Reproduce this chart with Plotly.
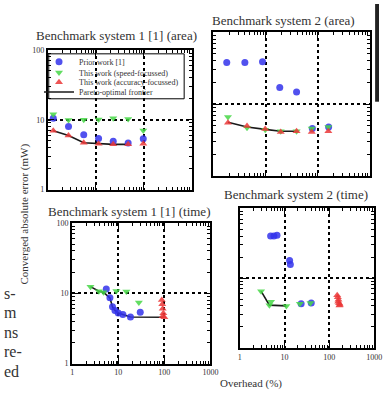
import plotly.graph_objects as go

W, H = 387, 394

# ---------------- data ----------------
# Benchmark system 1 [1] (area)
a1_prior_x = [1.3, 2.7, 5.6, 11.4, 23, 47, 97]
a1_prior_y = [10.5, 8.0, 6.1, 5.4, 4.95, 4.65, 5.35]
a1_speed_x = [1.3, 2.7, 5.6, 11.4, 23, 47, 97]
a1_speed_y = [12.0, 9.9, 10.0, 10.1, 10.5, 10.3, 7.0]
a1_acc_x = [1.3, 2.7, 5.6, 11.4, 23, 47, 97]
a1_acc_y = [6.95, 5.95, 4.7, 4.55, 4.45, 4.45, 4.55]
a1_front_x = [1.3, 2.7, 5.6, 11.4, 23, 47]
a1_front_y = [6.95, 5.95, 4.7, 4.55, 4.45, 4.45]

# Benchmark system 2 (area)
a2_prior_x = [1.8, 4.0, 8.7, 18.6, 39, 78, 160]
a2_prior_y = [38, 38, 39, 17, 14.8, 4.6, 4.8]
a2_speed_x = [1.9, 4.4, 9.8, 19.4, 39, 76, 158]
a2_speed_y = [6.6, 4.7, 4.4, 4.2, 4.2, 4.6, 4.8]
a2_acc_x = [1.9, 4.4, 9.8, 19.4, 39, 76, 158]
a2_acc_y = [5.5, 4.95, 4.5, 4.1, 4.2, 4.1, 4.2]
a2_front_x = [1.9, 4.4, 9.8, 19.4, 39]
a2_front_y = [5.6, 4.8, 4.45, 4.2, 4.2]

# Benchmark system 1 [1] (time)
t1_prior_x = [5.5, 6.6, 7.5, 8.5, 10, 12.6, 18.4, 30]
t1_prior_y = [11.5, 8.6, 6.4, 5.7, 5.25, 5.0, 4.6, 5.35]
t1_speed_x = [2.5, 3.8, 4.8, 9.1, 15, 28]
t1_speed_y = [12.4, 10.7, 10.3, 10.8, 10.6, 7.4]
t1_acc_x = [88, 90, 92, 95, 92, 100]
t1_acc_y = [8.0, 7.0, 6.0, 5.2, 4.7, 4.55]
t1_front_x = [2.5, 3.8, 4.8, 6.6, 7.5, 8.5, 10, 12.6, 18.4, 100]
t1_front_y = [12.4, 10.7, 10.3, 8.6, 6.4, 5.7, 5.25, 5.0, 4.6, 4.55]

# Benchmark system 2 (time)
t2_prior_x = [4.9, 5.8, 6.8, 13.0, 13.5, 23.5, 39.5]
t2_prior_y = [40, 40, 41, 17.8, 15.6, 4.3, 4.4]
t2_speed_x = [3.0, 4.6, 5.0, 11, 22, 38]
t2_speed_y = [6.5, 4.1, 4.6, 4.0, 4.3, 4.4]
t2_acc_x = [150, 155, 160, 158, 165, 172, 168]
t2_acc_y = [5.7, 5.3, 4.9, 4.6, 4.35, 4.15, 4.05]
t2_front_x = [3.0, 4.6, 11]
t2_front_y = [6.5, 4.1, 4.0]

series_names = ["Prior work [1]", "This work (speed-focussed)",
                "This work (accuracy-focussed)", "Pareto-optimal frontier"]
panel_titles = ["Benchmark system 1 [1] (area)", "Benchmark system 2 (area)",
                "Benchmark system 1 [1] (time)", "Benchmark system 2 (time)"]
x_tick_vals = [1, 10, 100, 1000]
x_tick_text = ["1", "10", "100", "1000"]
y_tick_vals = [1, 10, 100]
y_tick_text = ["1", "10", "100"]
y_label = "Converged absolute error (mW)"
x_label = "Overhead (%)"
margin_text = ["s-", "m", "ns", "re-", "ed"]

# ---------------- styling ----------------
SERIF = "Liberation Serif"
BLUE = "rgba(50,50,235,0.85)"
GREEN = "rgba(70,215,70,0.85)"
RED = "rgba(235,55,55,0.85)"


def px(x):
    return x / W


def py(y):
    return 1 - y / H


minor_vals = [m * 10 ** e for e in range(0, 3) for m in range(2, 10)]

domains = [
    ([47, 195], [47, 190]),
    ([217, 378], [29, 176]),
    ([72, 214], [224, 368]),
    ([244, 382], [209, 352]),
]

panels = [
    (a1_prior_x, a1_prior_y, a1_speed_x, a1_speed_y, a1_acc_x, a1_acc_y, a1_front_x, a1_front_y),
    (a2_prior_x, a2_prior_y, a2_speed_x, a2_speed_y, a2_acc_x, a2_acc_y, a2_front_x, a2_front_y),
    (t1_prior_x, t1_prior_y, t1_speed_x, t1_speed_y, t1_acc_x, t1_acc_y, t1_front_x, t1_front_y),
    (t2_prior_x, t2_prior_y, t2_speed_x, t2_speed_y, t2_acc_x, t2_acc_y, t2_front_x, t2_front_y),
]

fig = go.Figure()
legends = ["legend", "legend2", "legend3", "legend4"]

for i, p in enumerate(panels):
    xa = "x" if i == 0 else f"x{i+1}"
    ya = "y" if i == 0 else f"y{i+1}"
    show = i == 0
    fig.add_trace(go.Scatter(x=p[6], y=p[7], mode="lines", name=series_names[3],
                             line=dict(color="#1a1a1a", width=1.6),
                             xaxis=xa, yaxis=ya, showlegend=show, legend=legends[3]))
    fig.add_trace(go.Scatter(x=p[0], y=p[1], mode="markers", name=series_names[0],
                             marker=dict(symbol="circle", size=7, color=BLUE),
                             xaxis=xa, yaxis=ya, showlegend=show, legend=legends[0]))
    fig.add_trace(go.Scatter(x=p[2], y=p[3], mode="markers", name=series_names[1],
                             marker=dict(symbol="triangle-down", size=7, color=GREEN),
                             xaxis=xa, yaxis=ya, showlegend=show, legend=legends[1]))
    fig.add_trace(go.Scatter(x=p[4], y=p[5], mode="markers", name=series_names[2],
                             marker=dict(symbol="triangle-up", size=7, color=RED),
                             xaxis=xa, yaxis=ya, showlegend=show, legend=legends[2]))


def axis(domain, anchor, vals, text, rng, labels):
    return dict(type="log", range=rng, domain=domain, anchor=anchor,
                showline=True, linewidth=2, linecolor="black", mirror="allticks",
                ticks="inside", ticklen=6, tickwidth=1, tickcolor="black",
                tickmode="array", tickvals=vals, ticktext=text,
                showticklabels=labels,
                tickfont=dict(family=SERIF, size=8, color="#333"),
                showgrid=True, gridcolor="black", griddash="dot", gridwidth=1.5,
                minor=dict(tickmode="array", tickvals=minor_vals, ticks="inside",
                           ticklen=3, tickwidth=1, tickcolor="black", showgrid=False),
                zeroline=False)


layout = {}
for i, (dx, dy) in enumerate(domains):
    xk = "xaxis" if i == 0 else f"xaxis{i+1}"
    yk = "yaxis" if i == 0 else f"yaxis{i+1}"
    xa = "x" if i == 0 else f"x{i+1}"
    ya = "y" if i == 0 else f"y{i+1}"
    layout[xk] = axis([px(dx[0]), px(dx[1])], ya, x_tick_vals, x_tick_text, [0, 3], i >= 2)
    layout[yk] = axis([py(dy[1]), py(dy[0])], xa, y_tick_vals, y_tick_text, [0, 2], i in (0, 2))


def note(text, x, y, size, angle=0, xanchor="center"):
    return dict(text=text, x=px(x), y=py(y), xref="paper", yref="paper",
                xanchor=xanchor, yanchor="middle", textangle=angle, showarrow=False,
                font=dict(family=SERIF, size=size, color="#333"))


annotations = []
title_pos = [(118, 32), (289, 17), (130, 212), (302, 195)]
for t, (x, y) in zip(panel_titles, title_pos):
    annotations.append(note(t, x, y, 13))
annotations.append(note(y_label, 23, 215, 11, angle=-90))
annotations.append(note(x_label, 256, 388, 11))
for k, t in enumerate(margin_text):
    annotations.append(note(t, 0, 296 + 20 * k, 16, xanchor="left"))

leg_y = [59, 70, 80, 90]
for k, name in enumerate(legends):
    layout[name] = dict(x=px(38), y=py(leg_y[k]), xanchor="left", yanchor="middle",
                        bgcolor="rgba(0,0,0,0)", borderwidth=0,
                        font=dict(family=SERIF, size=8, color="#333"))

shapes = [
    dict(type="rect", xref="paper", yref="paper", x0=px(48), x1=px(187),
         y0=py(97), y1=py(51), line=dict(color="black", width=1)),
    dict(type="rect", xref="paper", yref="paper", x0=px(383), x1=px(387),
         y0=py(100), y1=py(0), line=dict(width=0), fillcolor="#222"),
]

fig.update_layout(width=W, height=H, margin=dict(l=0, r=0, t=0, b=0),
                  paper_bgcolor="white", plot_bgcolor="white",
                  annotations=annotations, shapes=shapes, **layout)

fig.write_html("out.html")
